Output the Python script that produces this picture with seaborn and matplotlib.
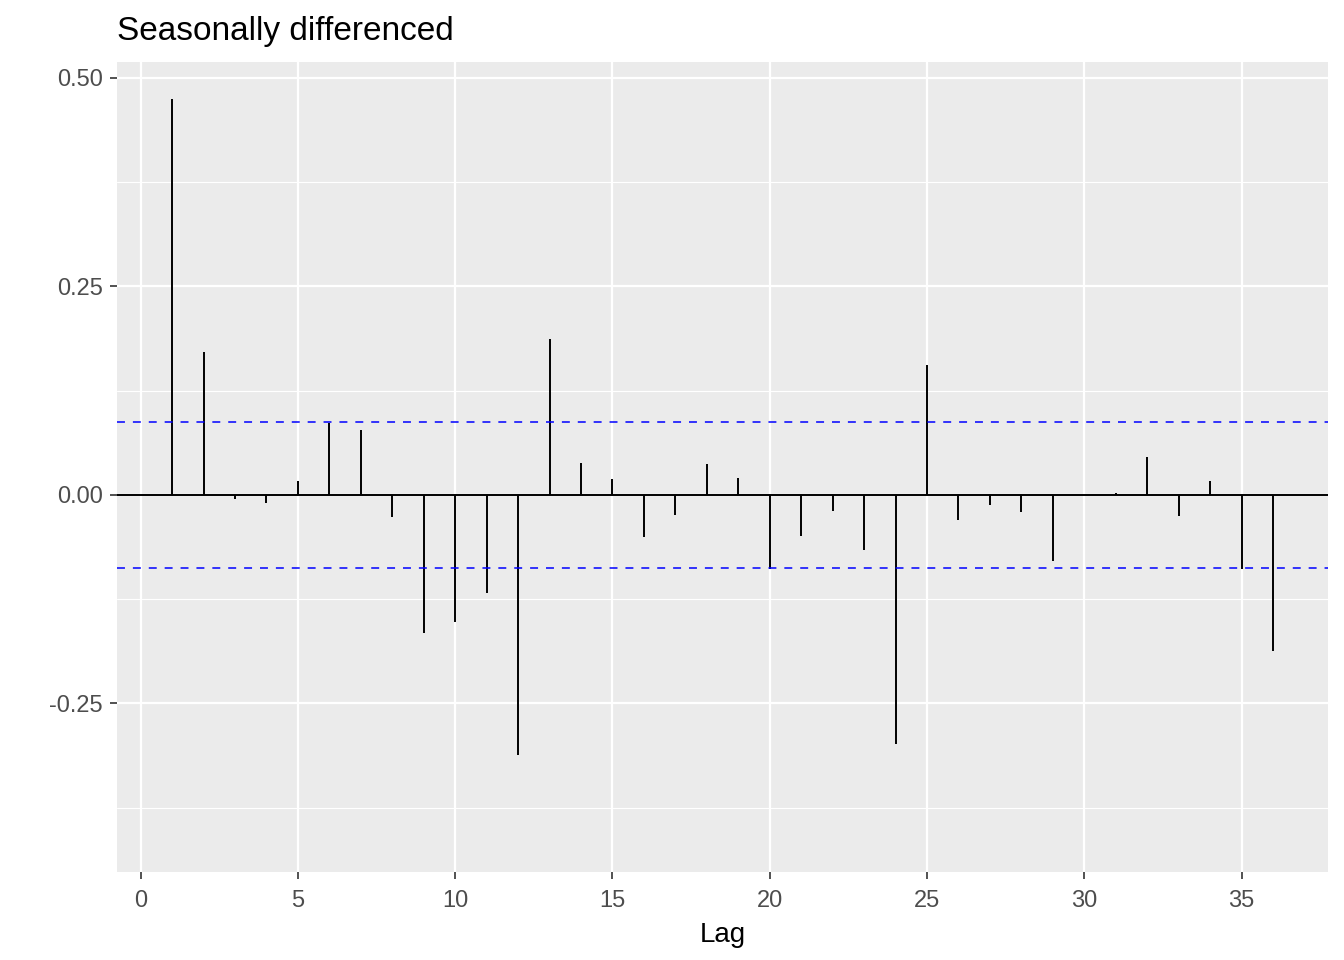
import matplotlib

matplotlib.use("Agg")

import matplotlib.pyplot as plt
import numpy as np
import seaborn as sns
from matplotlib.ticker import FixedLocator

# =========================
# Data
# =========================

lags = list(range(1, 37))
acf_values = [
    0.475, 0.171, -0.005, -0.010, 0.017, 0.086, 0.078, -0.026, -0.165, -0.152,
    -0.118, -0.312, 0.187, 0.038, 0.019, -0.050, -0.024, 0.037, 0.020, -0.089,
    -0.049, -0.019, -0.066, -0.299, 0.156, -0.030, -0.012, -0.020, -0.079, 0.000,
    0.002, 0.046, -0.025, 0.017, -0.089, -0.187,
]
conf_limit = 0.088
x_ticks = [0, 5, 10, 15, 20, 25, 30, 35]
y_ticks = [-0.25, 0.00, 0.25, 0.50]
y_minor = [-0.375, -0.125, 0.125, 0.375]

# =========================
# Style
# =========================

sns.set_theme(
    style="darkgrid",
    rc={
        "axes.facecolor": "#EBEBEB",
        "grid.color": "white",
        "axes.edgecolor": "#EBEBEB",
        "xtick.color": "#333333",
        "ytick.color": "#333333",
        "xtick.labelcolor": "#4D4D4D",
        "ytick.labelcolor": "#4D4D4D",
    },
)
plt.rcParams["font.family"] = ["Liberation Sans", "DejaVu Sans"]

# =========================
# Plot
# =========================

fig = plt.figure(figsize=(13.44, 9.6), dpi=100)
ax = fig.add_axes([117 / 1344, 1 - 872 / 960, (1328 - 117) / 1344, (872 - 62) / 960])

ax.vlines(lags, 0, acf_values, color="black", linewidth=1.4, zorder=3)
ax.axhline(0, color="black", linewidth=1.4, zorder=3)
for lim in (conf_limit, -conf_limit):
    ax.axhline(lim, color="blue", linewidth=1.1, linestyle=(0, (5.2, 5.2)), zorder=3)

ax.set_xlim(min(lags) - 0.05 * (max(lags) - min(lags)), max(lags) + 0.05 * (max(lags) - min(lags)))
ax.set_ylim(-0.452, 0.519)

ax.set_xticks(x_ticks, labels=[str(t) for t in x_ticks])
ax.set_yticks(y_ticks, labels=[f"{t:.2f}" for t in y_ticks])
ax.yaxis.set_minor_locator(FixedLocator(y_minor))
ax.grid(which="major", axis="both", color="white", linewidth=1.6)
ax.grid(which="minor", axis="y", color="white", linewidth=0.8)
ax.grid(which="minor", axis="x", visible=False)

ax.tick_params(axis="both", which="major", length=5, width=1.2, labelsize=17, pad=5,
               bottom=True, left=True)
ax.tick_params(axis="x", which="major", pad=8)
ax.tick_params(axis="both", which="minor", length=0)
for spine in ax.spines.values():
    spine.set_visible(False)

ax.set_xlabel("Lag", fontsize=20, color="black", labelpad=7)
ax.set_ylabel("")
ax.set_title("Seasonally differenced", fontsize=24, loc="left", color="black", pad=16)

fig.savefig("out.png", dpi=100)
plt.close(fig)
